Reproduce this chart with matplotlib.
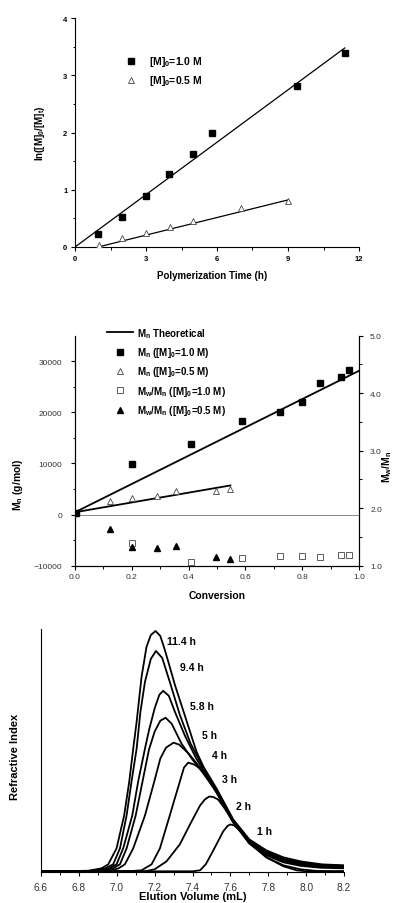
import matplotlib
matplotlib.use("Agg")
import matplotlib.pyplot as plt
from matplotlib.ticker import MultipleLocator, FixedLocator
import numpy as np

plt.rcParams['font.family'] = ['Liberation Sans', 'DejaVu Sans']
plt.rcParams['mathtext.fontset'] = 'custom'
plt.rcParams['mathtext.rm'] = 'Liberation Sans'
plt.rcParams['mathtext.bf'] = 'Liberation Sans:bold'
plt.rcParams['mathtext.it'] = 'Liberation Sans:italic'

W, H = 396, 904

# ---------------- Panel 1 data: kinetics ----------------
time_1M = [0.98, 2.0, 2.98, 3.99, 4.98, 5.79, 9.38, 11.4]
lnM_1M = [0.22, 0.52, 0.89, 1.28, 1.62, 2.00, 2.82, 3.39]
time_05M = [1.0, 2.0, 3.0, 4.0, 5.0, 7.0, 9.0]
lnM_05M = [0.03, 0.15, 0.24, 0.35, 0.45, 0.68, 0.80]
fit_1M = dict(slope=0.305, intercept=0.0, x0=0.0, x1=11.4)
fit_05M = dict(slope=0.1025, intercept=-0.1, x0=1.0, x1=9.0)

# ---------------- Panel 2 data: Mn / PDI vs conversion ----------------
conv_1M = [0.003, 0.20, 0.407, 0.587, 0.722, 0.80, 0.864, 0.938, 0.966]
Mn_1M = [300, 9840, 13770, 18230, 20070, 21970, 25700, 26950, 28330]
conv_05M = [0.123, 0.20, 0.287, 0.357, 0.495, 0.547]
Mn_05M = [2750, 3210, 3600, 4530, 4590, 4920]
pdi_conv_1M = [0.20, 0.407, 0.587, 0.722, 0.80, 0.864, 0.938, 0.966]
pdi_1M = [1.39, 1.07, 1.13, 1.17, 1.17, 1.16, 1.19, 1.19]
pdi_conv_05M = [0.123, 0.20, 0.287, 0.357, 0.495, 0.547]
pdi_05M = [1.63, 1.32, 1.31, 1.35, 1.16, 1.12]
theo_1M = dict(slope=27670, intercept=460, x0=0.0, x1=1.0)
theo_05M = dict(slope=9580, intercept=460, x0=0.0, x1=0.547)

# ---------------- Panel 3 data: GPC traces ----------------
gpc_labels = ['11.4 h', '9.4 h', '5.8 h', '5 h', '4 h', '3 h', '2 h', '1 h']
gpc_x = {
    '11.4 h': [6.60, 6.85, 6.92, 6.955, 6.999, 7.039, 7.066, 7.087, 7.105, 7.131, 7.157, 7.18, 7.205,
               7.23, 7.254, 7.28, 7.307, 7.365, 7.421, 7.46, 7.527, 7.615, 7.70, 7.79, 7.88, 7.97, 8.08, 8.20],
    '9.4 h': [6.60, 6.87, 6.94, 6.981, 7.017, 7.052, 7.078, 7.105, 7.125, 7.149, 7.18, 7.207, 7.24,
              7.28, 7.333, 7.39, 7.44, 7.527, 7.615, 7.70, 7.79, 7.88, 7.97, 8.08, 8.20],
    '5.8 h': [6.60, 6.90, 6.96, 6.999, 7.034, 7.082, 7.113, 7.149, 7.171, 7.201, 7.225, 7.245, 7.275,
              7.307, 7.36, 7.42, 7.47, 7.527, 7.615, 7.70, 7.79, 7.88, 7.97, 8.08, 8.20],
    '5 h': [6.60, 6.92, 6.98, 7.017, 7.052, 7.10, 7.136, 7.17, 7.20, 7.23, 7.258, 7.29, 7.342,
            7.40, 7.45, 7.527, 7.615, 7.70, 7.79, 7.88, 7.97, 8.08, 8.20],
    '4 h': [6.60, 6.96, 7.01, 7.043, 7.087, 7.149, 7.198, 7.23, 7.26, 7.30, 7.33, 7.38, 7.44,
            7.527, 7.615, 7.70, 7.79, 7.88, 7.97, 8.08, 8.20],
    '3 h': [6.60, 7.08, 7.131, 7.184, 7.228, 7.28, 7.333, 7.355, 7.377, 7.41, 7.44, 7.49, 7.527,
            7.615, 7.70, 7.79, 7.88, 7.97, 8.08, 8.20],
    '2 h': [6.60, 7.15, 7.20, 7.263, 7.333, 7.395, 7.44, 7.465, 7.488, 7.51, 7.535, 7.57, 7.615,
            7.70, 7.79, 7.88, 7.97, 8.06, 8.20],
    '1 h': [6.60, 7.40, 7.44, 7.47, 7.51, 7.562, 7.585, 7.60, 7.62, 7.65, 7.70, 7.79, 7.88,
            7.95, 8.00, 8.20],
}
gpc_y = {
    '11.4 h': [0, 0.5, 3, 7, 23, 56, 90, 123, 150, 195, 225, 237, 241,
               236, 222, 205, 187, 153, 120, 104, 83, 52, 32, 21, 14, 10, 7, 6],
    '9.4 h': [0, 0.5, 3, 7, 23, 56, 90, 123, 160, 190, 213, 221, 214,
              190, 157, 128, 110, 82, 51, 31, 20, 13, 9, 6.5, 5.5],
    '5.8 h': [0, 0.5, 3, 7, 23, 56, 90, 123, 142, 164, 177, 181, 176,
              160, 136, 113, 98, 81, 50, 30, 19, 12, 8, 5.5, 4.5],
    '5 h': [0, 0.5, 3, 7, 23, 56, 90, 122, 140, 151, 154, 148, 128,
            112, 100, 80, 50, 30, 18, 11, 7.5, 5, 4],
    '4 h': [0, 0.5, 3, 7, 23, 56, 90, 113, 124, 129, 127, 118, 104,
            79, 49, 29, 17, 10, 6.5, 4.5, 3.5],
    '3 h': [0, 0.3, 1, 7, 23, 56, 90, 104, 109, 107, 103, 91, 79,
            49, 28, 16, 9, 5.5, 3.5, 3],
    '2 h': [0, 0, 2, 10, 27, 50, 66, 72, 75, 74.5, 72, 63, 50,
            28, 14, 6, 2, 0.3, 0],
    '1 h': [0, 0, 1, 7, 21, 40, 45.5, 47, 46, 41, 30, 14, 5,
            1, 0, 0],
}
label_pos = {  # (x in mL, height) of the left edge of each curve label
    '11.4 h': (7.265, 231), '9.4 h': (7.333, 205), '5.8 h': (7.386, 166), '5 h': (7.451, 137),
    '4 h': (7.505, 117), '3 h': (7.558, 93), '2 h': (7.632, 65), '1 h': (7.741, 40),
}

fig = plt.figure(figsize=(W / 100, H / 100), dpi=100)


def axrect(l, t, r, b):
    return [l / W, 1 - b / H, (r - l) / W, (b - t) / H]


def ftext(x, y, s, **kw):
    fig.text(x / W, 1 - y / H, s, ha='center', va='center', **kw)


def style_ax(ax, lw=0.8):
    for sp in ['top', 'right']:
        ax.spines[sp].set_visible(False)
    for sp in ['left', 'bottom']:
        ax.spines[sp].set_linewidth(lw)


# ---------------- Panel 1 ----------------
ax1 = fig.add_axes(axrect(75, 19, 359, 248))
style_ax(ax1)
ax1.plot(time_1M, lnM_1M, 's', color='black', ms=3.8, ls='none', label='[M]$_\\mathbf{0}$=1.0 M', zorder=3)
ax1.plot(time_05M, lnM_05M, '^', mfc='white', mec='#444444', mew=0.6, ms=4.6, ls='none',
         label='[M]$_\\mathbf{0}$=0.5 M', zorder=3)
for f in (fit_1M, fit_05M):
    xs = np.array([f['x0'], f['x1']])
    ax1.plot(xs, f['slope'] * xs + f['intercept'], color='black', lw=0.9, zorder=2)
ax1.set_xlim(0, 12)
ax1.set_ylim(0, 4)
ax1.xaxis.set_major_locator(MultipleLocator(3))
ax1.xaxis.set_minor_locator(MultipleLocator(1.5))
ax1.yaxis.set_major_locator(MultipleLocator(1))
ax1.yaxis.set_minor_locator(MultipleLocator(0.5))
ax1.tick_params(which='major', direction='out', length=3, width=0.8, labelsize=5.5, pad=2.5)
ax1.tick_params(which='minor', direction='out', length=1.8, width=0.7)
for lab in ax1.get_xticklabels() + ax1.get_yticklabels():
    lab.set_fontweight('bold')
ax1.legend(loc='upper left', bbox_to_anchor=(121 / W, 1 - 50 / H), bbox_transform=fig.transFigure,
           frameon=False, borderpad=0, handlelength=1.0, handletextpad=1.2, labelspacing=0.5,
           prop=dict(weight='bold', size=7.5), numpoints=1)
ftext(212, 276, 'Polymerization Time (h)', fontsize=7, fontweight='bold')
ftext(40, 133, 'ln([M]$_\\mathbf{0}$/[M]$_\\mathbf{t}$)', fontsize=7, fontweight='bold', rotation=90)

# ---------------- Panel 2 ----------------
ax2 = fig.add_axes(axrect(75, 336.7, 359, 566.7))
ax2.spines['top'].set_visible(False)
for sp in ['left', 'bottom', 'right']:
    ax2.spines[sp].set_linewidth(0.8)
ax2.axhline(0, color='#888888', lw=0.7, zorder=1)
h_theo = None
for f in (theo_1M, theo_05M):
    xs = np.array([f['x0'], f['x1']])
    h_theo, = ax2.plot(xs, f['slope'] * xs + f['intercept'], color='black', lw=1.3, zorder=2)
h_mn1, = ax2.plot(conv_1M, Mn_1M, 's', color='black', ms=3.8, ls='none', zorder=3)
h_mn05, = ax2.plot(conv_05M, Mn_05M, '^', mfc='white', mec='#444444', mew=0.6, ms=4.6, ls='none', zorder=3)
ax2.set_xlim(0, 1.0)
ax2.set_ylim(-10000, 35000)
ax2.xaxis.set_major_locator(MultipleLocator(0.2))
ax2.xaxis.set_minor_locator(MultipleLocator(0.1))
ax2.yaxis.set_major_locator(FixedLocator([-10000, 0, 10000, 20000, 30000]))
ax2.yaxis.set_minor_locator(FixedLocator([-5000, 5000, 15000, 25000]))
ax2.tick_params(which='major', direction='out', length=3, width=0.8, labelsize=6, colors='black',
                labelcolor='#333333', pad=2.5)
ax2.tick_params(axis='y', which='major', pad=6)
ax2.tick_params(which='minor', direction='out', length=1.8, width=0.7)
ax2.xaxis.set_major_formatter(matplotlib.ticker.FormatStrFormatter('%.1f'))

ax2r = ax2.twinx()
ax2r.spines['top'].set_visible(False)
ax2r.spines['right'].set_linewidth(0.8)
h_pdi1, = ax2r.plot(pdi_conv_1M, pdi_1M, 's', mfc='white', mec='#444444', mew=0.6, ms=3.8, ls='none')
h_pdi05, = ax2r.plot(pdi_conv_05M, pdi_05M, '^', color='black', ms=4.6, ls='none')
ax2r.set_ylim(1.0, 5.0)
ax2r.yaxis.set_major_locator(MultipleLocator(1.0))
ax2r.yaxis.set_minor_locator(MultipleLocator(0.5))
ax2r.yaxis.set_major_formatter(matplotlib.ticker.FormatStrFormatter('%.1f'))
ax2r.tick_params(which='major', direction='out', length=3, width=0.8, labelsize=6,
                 labelcolor='#333333', pad=5)
ax2r.tick_params(which='minor', direction='out', length=1.8, width=0.7)
ax2r.legend([h_theo, h_mn1, h_mn05, h_pdi1, h_pdi05],
            ['M$_\\mathbf{n}$ Theoretical', 'M$_\\mathbf{n}$ ([M]$_\\mathbf{0}$=1.0 M)',
             'M$_\\mathbf{n}$ ([M]$_\\mathbf{0}$=0.5 M)',
             'M$_\\mathbf{w}$/M$_\\mathbf{n}$ ([M]$_\\mathbf{0}$=1.0 M)',
             'M$_\\mathbf{w}$/M$_\\mathbf{n}$ ([M]$_\\mathbf{0}$=0.5 M)'],
            loc='upper left', bbox_to_anchor=(102 / W, 1 - 322 / H), bbox_transform=fig.transFigure,
            frameon=False, borderpad=0, handlelength=2.7, handletextpad=0.35, labelspacing=0.55,
            prop=dict(weight='bold', size=7), numpoints=1)
ftext(217, 596, 'Conversion', fontsize=7.5, fontweight='bold')
ftext(18, 485, 'M$_\\mathbf{n}$ (g/mol)', fontsize=7.5, fontweight='bold', rotation=90)
ftext(387, 467, 'M$_\\mathbf{w}$/M$_\\mathbf{n}$', fontsize=7.5, fontweight='bold', rotation=90)

# ---------------- Panel 3 ----------------
ax3 = fig.add_axes(axrect(41, 630, 344, 873.3))
style_ax(ax3)
for lab in gpc_labels:
    ax3.plot(gpc_x[lab], gpc_y[lab], color='black', lw=1.3, solid_joinstyle='round')
    lx, ly = label_pos[lab]
    ax3.text(lx, ly, lab, fontsize=7.5, fontweight='bold', ha='left', va='center')
ax3.set_xlim(6.6, 8.2)
ax3.set_ylim(-1, 243)
ax3.set_yticks([])
ax3.xaxis.set_major_locator(MultipleLocator(0.2))
ax3.xaxis.set_minor_locator(MultipleLocator(0.1))
ax3.xaxis.set_major_formatter(matplotlib.ticker.FormatStrFormatter('%.1f'))
ax3.tick_params(which='major', direction='out', length=3, width=0.8, labelsize=7.3,
                labelcolor='#333333', pad=4)
ax3.tick_params(which='minor', direction='out', length=1.8, width=0.7)
ftext(193, 897, 'Elution Volume (mL)', fontsize=8, fontweight='bold')
ftext(15, 757, 'Refractive Index', fontsize=8, fontweight='bold', rotation=90)

fig.savefig('out.png', dpi=100)
